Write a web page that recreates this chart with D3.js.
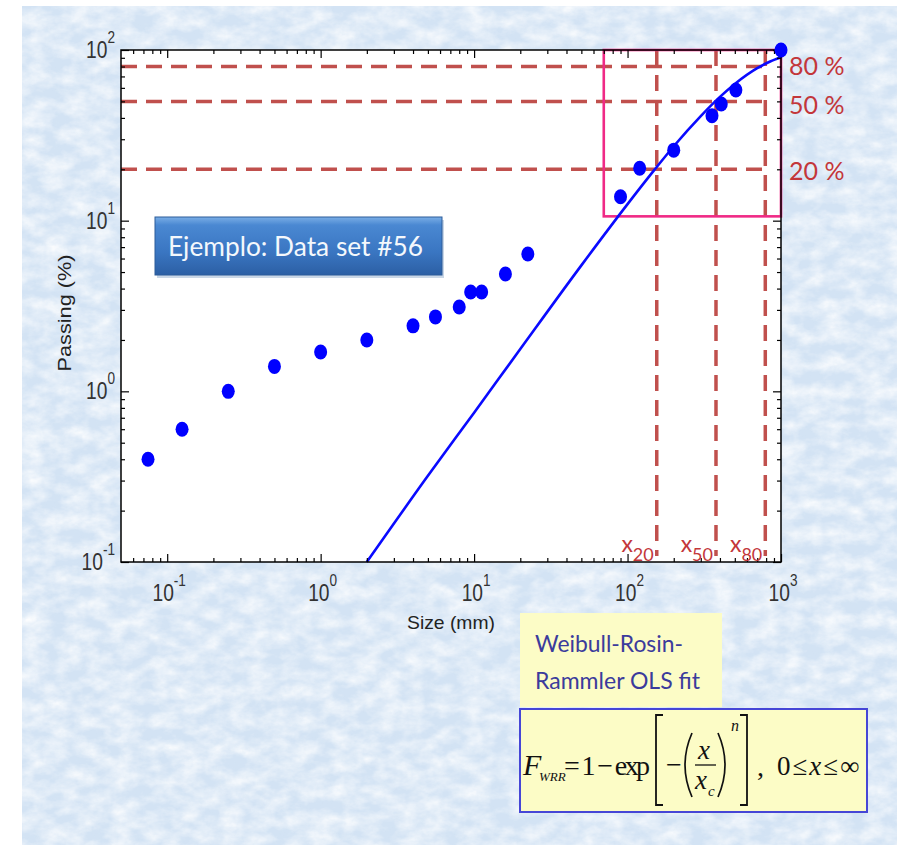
<!DOCTYPE html>
<html>
<head>
<meta charset="utf-8">
<script src="https://cdn.jsdelivr.net/npm/d3@7"></script>
<style>
  html, body { margin: 0; padding: 0; background: #ffffff; }
  svg { display: block; }
</style>
</head>
<body>
<svg id="chart" width="897" height="845"></svg>
<script>
// Sieve analysis, data set #56: cumulative passing vs particle size
const sizeMm     = [0.075, 0.125, 0.25, 0.5, 1, 2, 4, 5.6, 8, 9.5, 11.2, 16, 22.4, 90, 120, 200, 355, 408, 508, 1000];
const passingPct = [0.40, 0.60, 1.0, 1.4, 1.7, 2.0, 2.42, 2.73, 3.12, 3.82, 3.82, 4.87, 6.38, 13.8, 20.3, 25.9, 41.2, 48.3, 58.3, 100];

// Weibull-Rosin-Rammler OLS fitted curve (size, passing)
const fitSizeMm     = [2, 5, 10, 20, 50, 100, 150, 200, 300, 400, 500, 700, 850, 1000];
const fitPassingPct = [0.1, 0.32, 0.75, 1.77, 5.47, 12.5, 19.9, 27.3, 41.0, 53.1, 63.2, 78.2, 85.6, 90.7];

// Reference passing levels and characteristic sizes x20, x50, x80
const refPassing = [80, 50, 20];
const refLabels  = ["80 %", "50 %", "20 %"];
const charSizes  = [155, 377, 790];
const charLabels = ["20", "50", "80"];

// Highlighted region of the upper size range
const zoomSizeRange    = [70, 1000];
const zoomPassingRange = [10.6, 100];

// Axis decades
const xTickExp = [-1, 0, 1, 2, 3];
const yTickExp = [-1, 0, 1, 2];

const svg = d3.select("#chart");
const W = 897, H = 845;
const plot = { left: 121, right: 781, top: 50, bottom: 562 };

const x = d3.scaleLog().domain([0.05, 1000]).range([plot.left, plot.right]);
const y = d3.scaleLog().domain([0.1, 100]).range([plot.bottom, plot.top]);

// ---------- defs: textured slide background, button gradient ----------
const defs = svg.append("defs");
const mottle = defs.append("filter").attr("id", "mottle")
  .attr("x", 0).attr("y", 0).attr("width", "100%").attr("height", "100%");
mottle.append("feTurbulence").attr("type", "fractalNoise")
  .attr("baseFrequency", "0.045 0.07").attr("numOctaves", 4).attr("seed", 11);
mottle.append("feColorMatrix").attr("type", "matrix")
  .attr("values", "0 0 0 0 1  0 0 0 0 1  0 0 0 0 1  1.4 0 0 0 -0.42");

const speck = defs.append("filter").attr("id", "speck")
  .attr("x", 0).attr("y", 0).attr("width", "100%").attr("height", "100%");
speck.append("feTurbulence").attr("type", "fractalNoise")
  .attr("baseFrequency", "0.15").attr("numOctaves", 2).attr("seed", 3);
speck.append("feColorMatrix").attr("type", "matrix")
  .attr("values", "0 0 0 0 0.66  0 0 0 0 0.78  0 0 0 0 0.9  0 1.6 0 0 -0.8");

const grad = defs.append("linearGradient").attr("id", "btn")
  .attr("x1", 0).attr("y1", 0).attr("x2", 0).attr("y2", 1);
grad.append("stop").attr("offset", "0%").attr("stop-color", "#7aaee6");
grad.append("stop").attr("offset", "14%").attr("stop-color", "#4a88d2");
grad.append("stop").attr("offset", "60%").attr("stop-color", "#3a76c2");
grad.append("stop").attr("offset", "100%").attr("stop-color", "#2c5fa4");

// ---------- background ----------
svg.append("rect").attr("x", 0).attr("y", 0).attr("width", W).attr("height", H).attr("fill", "#ffffff");
svg.append("rect").attr("x", 22).attr("y", 6).attr("width", W - 22).attr("height", H - 6).attr("fill", "#d3e3f4");
svg.append("rect").attr("x", 22).attr("y", 6).attr("width", W - 22).attr("height", H - 6).attr("filter", "url(#mottle)");
svg.append("rect").attr("x", 22).attr("y", 6).attr("width", W - 22).attr("height", H - 6).attr("filter", "url(#speck)").attr("opacity", 0.35);

// ---------- plot area ----------
svg.append("rect")
  .attr("x", plot.left).attr("y", plot.top)
  .attr("width", plot.right - plot.left).attr("height", plot.bottom - plot.top)
  .attr("fill", "#ffffff");

const dashColor = "#c0504d";
const dashes = svg.append("g").attr("fill", "none").attr("stroke", dashColor)
  .attr("stroke-width", 3.5).attr("stroke-dasharray", "16,9");

dashes.selectAll("line.h").data(refPassing).join("line").attr("class", "h")
  .attr("x1", plot.left).attr("x2", x(800))
  .attr("y1", d => y(d)).attr("y2", d => y(d));

dashes.selectAll("line.v").data(charSizes).join("line").attr("class", "v")
  .attr("x1", d => x(d)).attr("x2", d => x(d))
  .attr("y1", y(100)).attr("y2", y(0.1) - 6);

// highlighted region
svg.append("rect")
  .attr("x", x(zoomSizeRange[0])).attr("y", y(zoomPassingRange[1]))
  .attr("width", x(zoomSizeRange[1]) - x(zoomSizeRange[0]))
  .attr("height", y(zoomPassingRange[0]) - y(zoomPassingRange[1]))
  .attr("fill", "none").attr("stroke", "#f02a86").attr("stroke-width", 2.6);

// fitted curve
const fitData = fitSizeMm.map((s, i) => [s, fitPassingPct[i]]);
svg.append("path").datum(fitData)
  .attr("fill", "none").attr("stroke", "#0a0aff").attr("stroke-width", 2.6)
  .attr("d", d3.line().x(d => x(d[0])).y(d => y(d[1])).curve(d3.curveMonotoneX));

// ---------- axes frame with inward ticks on all four sides ----------
function minorValues(lo, hi) {
  const out = [];
  for (let e = Math.floor(Math.log10(lo)); e < Math.ceil(Math.log10(hi)); e++) {
    for (let m = 2; m <= 9; m++) {
      const v = m * Math.pow(10, e);
      if (v >= lo * 0.999 && v <= hi * 1.001) out.push(v);
    }
  }
  return out;
}
const xMajor = xTickExp.map(e => Math.pow(10, e));
const yMajor = yTickExp.map(e => Math.pow(10, e));
const xMinor = minorValues(0.05, 1000).filter(v => v > 0.051);
const yMinor = minorValues(0.1, 100);

function styleAxis(g) {
  g.select(".domain").remove();
  g.selectAll(".tick line").attr("stroke", "#000").attr("stroke-width", 1.2);
}
const axes = svg.append("g");
axes.append("g").attr("transform", `translate(0,${plot.bottom})`)
  .call(d3.axisBottom(x).tickValues(xMajor).tickSize(-8).tickFormat("")).call(styleAxis);
axes.append("g").attr("transform", `translate(0,${plot.bottom})`)
  .call(d3.axisBottom(x).tickValues(xMinor).tickSize(-4).tickFormat("")).call(styleAxis);
axes.append("g").attr("transform", `translate(0,${plot.top})`)
  .call(d3.axisTop(x).tickValues(xMajor).tickSize(-8).tickFormat("")).call(styleAxis);
axes.append("g").attr("transform", `translate(0,${plot.top})`)
  .call(d3.axisTop(x).tickValues(xMinor).tickSize(-4).tickFormat("")).call(styleAxis);
axes.append("g").attr("transform", `translate(${plot.left},0)`)
  .call(d3.axisLeft(y).tickValues(yMajor).tickSize(-8).tickFormat("")).call(styleAxis);
axes.append("g").attr("transform", `translate(${plot.left},0)`)
  .call(d3.axisLeft(y).tickValues(yMinor).tickSize(-4).tickFormat("")).call(styleAxis);
axes.append("g").attr("transform", `translate(${plot.right},0)`)
  .call(d3.axisRight(y).tickValues(yMajor).tickSize(-8).tickFormat("")).call(styleAxis);
axes.append("g").attr("transform", `translate(${plot.right},0)`)
  .call(d3.axisRight(y).tickValues(yMinor).tickSize(-4).tickFormat("")).call(styleAxis);

axes.append("rect")
  .attr("x", plot.left).attr("y", plot.top)
  .attr("width", plot.right - plot.left).attr("height", plot.bottom - plot.top)
  .attr("fill", "none").attr("stroke", "#000").attr("stroke-width", 1.5);

// data points
svg.append("g").selectAll("ellipse")
  .data(sizeMm.map((s, i) => [s, passingPct[i]]))
  .join("ellipse")
  .attr("cx", d => x(d[0])).attr("cy", d => y(d[1]))
  .attr("rx", 6.5).attr("ry", 7.5)
  .attr("fill", "#0000ff");

// power-of-ten tick labels
function powLabel(parent, exp, px, py, anchor) {
  const t = parent.append("text")
    .attr("transform", `translate(${px},${py}) scale(0.8,1)`)
    .attr("text-anchor", anchor)
    .attr("font-family", "'Liberation Sans', Arial, sans-serif")
    .attr("font-size", 24).attr("fill", "#333333");
  t.append("tspan").text("10");
  t.append("tspan").attr("dy", -15).attr("font-size", 17).text(String(exp));
}
const labels = svg.append("g");
xTickExp.forEach(e => powLabel(labels, e, x(Math.pow(10, e)) + 2, 601, "middle"));
yTickExp.forEach(e => powLabel(labels, e, 115, y(Math.pow(10, e)) + 8, "end"));

// axis titles
svg.append("text")
  .attr("x", 451).attr("y", 629)
  .attr("text-anchor", "middle")
  .attr("font-family", "'Liberation Sans', Arial, sans-serif")
  .attr("font-size", 19).attr("fill", "#222")
  .attr("textLength", 88).attr("lengthAdjust", "spacingAndGlyphs")
  .text("Size (mm)");

svg.append("text")
  .attr("transform", "translate(71,313) rotate(-90)")
  .attr("text-anchor", "middle")
  .attr("font-family", "'Liberation Sans', Arial, sans-serif")
  .attr("font-size", 19).attr("fill", "#222")
  .attr("textLength", 117).attr("lengthAdjust", "spacingAndGlyphs")
  .text("Passing (%)");

// reference level labels
const redText = "#c3363a";
svg.append("g").selectAll("text").data(refPassing).join("text")
  .attr("x", 789)
  .attr("y", (d, i) => [75, 114, 180][i])
  .attr("font-family", "Lato, 'Open Sans', sans-serif")
  .attr("font-size", 25).attr("fill", redText)
  .text((d, i) => refLabels[i]);

// characteristic size labels x20, x50, x80
const charG = svg.append("g").selectAll("text").data(charSizes).join("text")
  .attr("x", d => x(d) - 3).attr("y", 552)
  .attr("text-anchor", "end")
  .attr("font-family", "Lato, 'Open Sans', sans-serif")
  .attr("font-size", 23).attr("fill", redText);
charG.append("tspan").text("x");
charG.append("tspan").attr("dy", 9).attr("font-size", 18).text((d, i) => charLabels[i]);

// ---------- "Ejemplo" banner ----------
svg.append("rect").attr("x", 157).attr("y", 220).attr("width", 287).attr("height", 58)
  .attr("fill", "#8aa7c8").attr("opacity", 0.45);
svg.append("rect").attr("x", 155).attr("y", 217).attr("width", 287).attr("height", 58)
  .attr("fill", "url(#btn)").attr("stroke", "#2d5d9a").attr("stroke-width", 1);
svg.append("text").attr("x", 168).attr("y", 256)
  .attr("font-family", "Lato, 'Open Sans', sans-serif")
  .attr("font-size", 27).attr("fill", "#f4f8fc")
  .attr("textLength", 255).attr("lengthAdjust", "spacingAndGlyphs")
  .text("Ejemplo: Data set #56");

// ---------- fit description ----------
svg.append("rect").attr("x", 520).attr("y", 613).attr("width", 202).attr("height", 94)
  .attr("fill", "#fcfcc6");
const descFont = "Lato, 'Open Sans', sans-serif";
svg.append("text").attr("x", 535).attr("y", 652)
  .attr("font-family", descFont).attr("font-size", 24).attr("fill", "#3b3b9c")
  .attr("textLength", 148).attr("lengthAdjust", "spacingAndGlyphs")
  .text("Weibull-Rosin-");
svg.append("text").attr("x", 535).attr("y", 689)
  .attr("font-family", descFont).attr("font-size", 24).attr("fill", "#3b3b9c")
  .attr("textLength", 165).attr("lengthAdjust", "spacingAndGlyphs")
  .text("Rammler OLS fit");

// ---------- model equation ----------
svg.append("rect").attr("x", 520).attr("y", 709).attr("width", 347).attr("height", 103)
  .attr("fill", "#fcfcc6").attr("stroke", "#4646d6").attr("stroke-width", 2);

const eq = svg.append("g")
  .attr("font-family", "'Liberation Serif', 'Times New Roman', serif")
  .attr("fill", "#111");
const eqStroke = "#111";
eq.append("text").attr("x", 523).attr("y", 775).attr("font-size", 30).attr("font-style", "italic").text("F");
eq.append("text").attr("x", 539).attr("y", 781).attr("font-size", 13).attr("font-style", "italic").text("WRR");
eq.append("text").attr("x", 564).attr("y", 775).attr("font-size", 28)
  .attr("textLength", 86).attr("lengthAdjust", "spacing").text("= 1 \u2212 exp");
// square brackets
eq.append("path").attr("d", "M663,715 H656 V805 H663").attr("fill", "none").attr("stroke", eqStroke).attr("stroke-width", 1.8);
eq.append("path").attr("d", "M740,715 H747 V805 H740").attr("fill", "none").attr("stroke", eqStroke).attr("stroke-width", 1.8);
eq.append("text").attr("x", 666).attr("y", 774).attr("font-size", 28).text("\u2212");
// parentheses
eq.append("path").attr("d", "M692,733 Q678,765 692,797").attr("fill", "none").attr("stroke", eqStroke).attr("stroke-width", 1.7);
eq.append("path").attr("d", "M718,733 Q732,765 718,797").attr("fill", "none").attr("stroke", eqStroke).attr("stroke-width", 1.7);
// fraction x / x_c
eq.append("text").attr("x", 698).attr("y", 759).attr("font-size", 27).attr("font-style", "italic").text("x");
eq.append("line").attr("x1", 695).attr("x2", 716).attr("y1", 765).attr("y2", 765).attr("stroke", eqStroke).attr("stroke-width", 1.3);
eq.append("text").attr("x", 695).attr("y", 789).attr("font-size", 27).attr("font-style", "italic").text("x");
eq.append("text").attr("x", 708).attr("y", 796).attr("font-size", 15).attr("font-style", "italic").text("c");
eq.append("text").attr("x", 731).attr("y", 731).attr("font-size", 16).attr("font-style", "italic").text("n");
// domain
eq.append("text").attr("x", 757).attr("y", 776).attr("font-size", 28).text(",");
const dom = eq.append("text").attr("x", 777).attr("y", 775).attr("font-size", 27).attr("letter-spacing", 2);
dom.append("tspan").text("0\u2264");
dom.append("tspan").attr("font-style", "italic").text("x");
dom.append("tspan").text("\u2264\u221E");
</script>
</body>
</html>
